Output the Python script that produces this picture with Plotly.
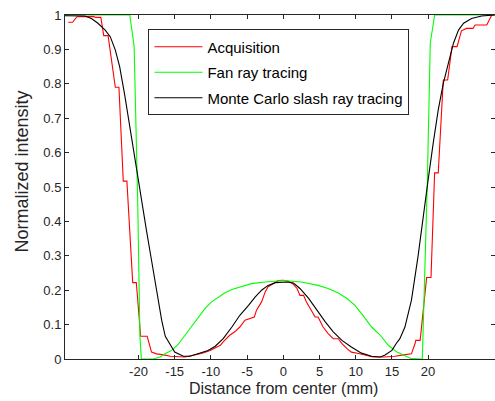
import plotly.graph_objects as go

# ---- data ----
acq_x = [-29.7, -29.1, -28.5, -26.2, -25.9, -25.2, -24.8, -24.2, -23.2, -22.7, -22.1, -21.6,
         -20.8, -20.3, -19.7, -18.8, -18.2, -17.5, -16.5, -15.6, -13.6, -12.2, -11.3, -10.1,
         -8.7, -8.3, -7.4, -6.7, -6.0, -5.3, -4.6, -4.0, -3.7, -3.0, -2.5, -2.1, -1.4, -0.7,
         0.0, 0.7, 1.3, 1.9, 2.3, 2.8, 3.2, 3.9, 4.4, 4.8, 5.5, 6.2, 6.9, 7.6, 8.1, 8.8, 9.4,
         10.4, 11.3, 12.4, 14.0, 15.4, 16.6, 17.7, 18.2, 18.3, 18.9, 19.8, 20.4, 20.9, 21.4,
         22.1, 22.7, 23.3, 24.0, 24.6, 25.3, 26.2, 26.5, 28.1, 28.8, 29.2]
acq_y = [0.979, 0.979, 0.995, 0.996, 0.993, 0.993, 0.94, 0.94, 0.79, 0.79, 0.517, 0.517,
         0.222, 0.222, 0.066, 0.066, 0.02, 0.015, 0.012, 0.008, 0.006, 0.011, 0.016, 0.025,
         0.04, 0.05, 0.069, 0.079, 0.093, 0.113, 0.119, 0.122, 0.142, 0.166, 0.195, 0.21, 0.219, 0.228,
         0.229, 0.226, 0.219, 0.205, 0.185, 0.185, 0.166, 0.142, 0.122, 0.122, 0.093, 0.074, 0.059, 0.059, 0.045, 0.03, 0.02,
         0.016, 0.011, 0.006, 0.006, 0.008, 0.012, 0.015, 0.045, 0.054, 0.054, 0.237, 0.237, 0.541, 0.541,
         0.811, 0.811, 0.908, 0.908, 0.954, 0.961, 0.961, 0.971, 0.971, 1.0, 1.0]

fan_x = [-30.2, -21.2, -20.6, -20.1, -19.8, -19.6, -18.0, -17.0, -16.3, -15.4, -14.5, -13.6,
         -12.7, -11.7, -10.8, -9.9, -9.0, -8.1, -7.1, -5.7, -4.4, -2.5, 0.0, 2.5, 4.8, 6.2,
         7.6, 8.8, 9.9, 11.0, 12.2, 13.4, 14.5, 15.7, 16.8, 17.7, 19.2, 19.9, 20.3, 20.9, 29.2]
fan_y = [1.0, 1.0, 0.908, 0.45, 0.065, 0.0, 0.0, 0.006, 0.016, 0.025, 0.043, 0.069,
         0.093, 0.122, 0.147, 0.166, 0.18, 0.192, 0.202, 0.212, 0.219, 0.224, 0.228, 0.224, 0.214, 0.205,
         0.192, 0.176, 0.156, 0.127, 0.093, 0.069, 0.04, 0.02, 0.009, 0.001, 0.0, 0.52, 0.918, 1.0, 1.0]

mc_x = [-30.2, -27.4, -26.5, -25.6, -24.6, -23.9, -23.2, -22.6, -21.9, -21.2, -20.25, -19.6,
        -18.9, -18.2, -17.5, -16.8, -16.3, -15.6, -15.0, -13.8, -12.9, -11.7, -10.4, -9.4,
        -8.3, -7.1, -6.0, -4.8, -3.9, -3.0, -2.1, -1.1, -0.2, 0.5, 1.4, 2.3, 3.5, 4.6, 5.8,
        6.9, 8.1, 9.4, 10.8, 12.2, 13.4, 14.0, 15.0, 15.6, 16.1, 16.8, 17.7, 18.6, 19.3, 20.0,
        20.7, 21.4, 22.1, 22.8, 23.5, 24.2, 24.9, 26.0, 27.4, 29.2]
mc_y = [0.998, 0.997, 0.99, 0.976, 0.956, 0.937, 0.898, 0.85, 0.767, 0.675, 0.539, 0.462,
        0.374, 0.287, 0.2, 0.113, 0.066, 0.04, 0.02, 0.008, 0.008, 0.016, 0.025, 0.037,
        0.059, 0.093, 0.127, 0.156, 0.18, 0.2, 0.214, 0.222, 0.224, 0.224, 0.221, 0.205, 0.176, 0.142, 0.108,
        0.079, 0.054, 0.035, 0.017, 0.008, 0.006, 0.011, 0.025, 0.045, 0.059, 0.093, 0.171, 0.297, 0.413, 0.52,
        0.627, 0.724, 0.801, 0.859, 0.918, 0.956, 0.976, 0.99, 0.997, 1.0]

x_ticks = [-20, -15, -10, -5, 0, 5, 10, 15, 20]
y_ticks = [0, 0.1, 0.2, 0.3, 0.4, 0.5, 0.6, 0.7, 0.8, 0.9, 1]
y_tick_labels = ["0", "0.1", "0.2", "0.3", "0.4", "0.5", "0.6", "0.7", "0.8", "0.9", "1"]

series_names = ["Acquisition", "Fan ray tracing", "Monte Carlo slash ray tracing"]
series_colors = ["#ff0000", "#00ff00", "#000000"]

x_title = "Distance from center (mm)"
y_title = "Normalized intensity"

FONT = "Liberation Sans, Arial, sans-serif"
AX = "#262626"

fig = go.Figure()
for i, (xs, ys, nm, col) in enumerate(zip([acq_x, fan_x, mc_x], [acq_y, fan_y, mc_y],
                                          series_names, series_colors)):
    fig.add_trace(go.Scatter(x=xs, y=ys, mode="lines", name=nm, legendgroup=f"g{i}",
                             line=dict(color=col, width=1.1)))

fig.update_layout(
    width=495, height=401,
    margin=dict(l=65, r=0, t=15, b=42),
    paper_bgcolor="white", plot_bgcolor="white",
    font=dict(family=FONT, size=13, color=AX),
    showlegend=True,
    legend=dict(x=0.194, y=0.958, xanchor="left", yanchor="top",
                bgcolor="white", bordercolor=AX, borderwidth=1,
                font=dict(family=FONT, size=15, color="#000000"),
                itemwidth=48, traceorder="grouped", tracegroupgap=3),
    xaxis=dict(range=[-30.15, 29.24], tickmode="array", tickvals=x_ticks,
               ticktext=[str(v) for v in x_ticks],
               ticks="inside", ticklen=4, tickcolor=AX, showgrid=False, zeroline=False,
               showline=True, linecolor=AX, linewidth=1, mirror="ticks"),
    yaxis=dict(range=[0, 1], tickmode="array", tickvals=y_ticks, ticktext=y_tick_labels,
               ticks="inside", ticklen=4, tickcolor=AX, showgrid=False, zeroline=False,
               showline=True, linecolor=AX, linewidth=1, mirror="ticks"),
    annotations=[
        dict(text=x_title, xref="paper", yref="paper", x=0.5077, y=-0.087,
             xanchor="center", yanchor="middle", showarrow=False,
             font=dict(family=FONT, size=16, color=AX)),
        dict(text=y_title, xref="paper", yref="paper", x=-0.10, y=0.545,
             xanchor="center", yanchor="middle", showarrow=False, textangle=-90,
             font=dict(family=FONT, size=18, color=AX)),
    ],
)

fig.write_html("out.html")
